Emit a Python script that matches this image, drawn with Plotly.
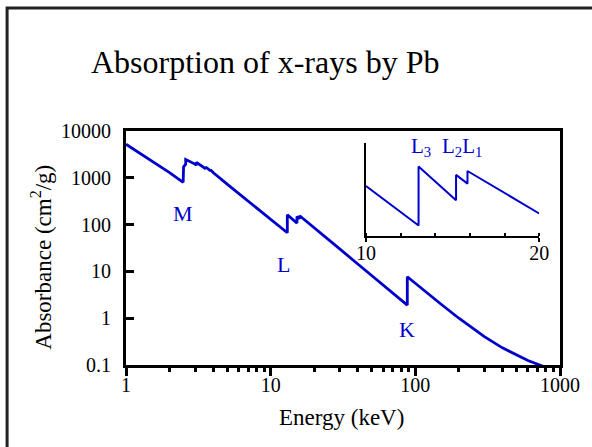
import math
import plotly.graph_objects as go

# Mass attenuation of Pb (cm^2/g) vs photon energy (keV); duplicated energies are absorption edges
energy_kev = [1.0, 1.5, 2.0, 2.484, 2.484, 2.5, 2.586, 2.586, 3.0, 3.066, 3.066, 3.5,
              3.554, 3.554, 3.851, 3.851, 4.0, 5.0, 6.0, 8.0, 10.0, 13.035, 13.035, 15.0,
              15.2, 15.2, 15.86, 15.86, 20.0, 30.0, 40.0, 50.0, 60.0, 80.0, 88.0, 88.0,
              100.0, 150.0, 200.0, 300.0, 400.0, 500.0, 600.0, 800.0, 1000.0]
absorbance = [5210, 2356, 1285, 800.6, 1397, 1726, 1944, 2458, 1965, 1857, 2146, 1620,
              1560, 1700, 1400, 1480, 1300, 730.4, 467.2, 228.7, 130.6, 67.0, 162.1, 111.6,
              107.8, 148.5, 134.4, 154.8, 86.36, 30.32, 14.36, 8.041, 5.021, 2.419, 1.91, 7.683,
              5.549, 2.014, 0.9985, 0.4031, 0.2323, 0.1614, 0.1248, 0.0887, 0.07102]

y_tick_vals = [0.1, 1, 10, 100, 1000, 10000]
y_tick_text = ["0.1", "1", "10", "100", "1000", "10000"]
x_tick_vals = [1, 10, 100, 1000]
x_tick_text = ["1", "10", "100", "1000"]
x_minor_vals = [m * d for d in (1, 10, 100) for m in range(2, 10)]

inset_x_range = [10, 20]
inset_y_range = [50, 200]
inset_tick_vals = [10, 20]
inset_tick_text = ["10", "20"]

edge_labels = ["M", "L", "K"]
edge_label_x = [2.46, 12.3, 88.0]
edge_label_y = [170, 14, 0.56]

BLUE = "#0000cd"
FONT = "Liberation Serif, Times New Roman, serif"

inset_e = [e for e in energy_kev if 10 <= e <= 20]
inset_a = [a for e, a in zip(energy_kev, absorbance) if 10 <= e <= 20]

fig = go.Figure()
fig.add_trace(go.Scatter(x=energy_kev, y=absorbance, mode="lines",
                         line=dict(color=BLUE, width=2.8), showlegend=False, hoverinfo="skip"))
fig.add_trace(go.Scatter(x=inset_e, y=inset_a, mode="lines", xaxis="x2", yaxis="y2",
                         line=dict(color=BLUE, width=2), showlegend=False, hoverinfo="skip"))

annotations = []
for t, xv, yv in zip(edge_labels, edge_label_x, edge_label_y):
    annotations.append(dict(text=t, x=math.log10(xv), y=math.log10(yv), xref="x", yref="y",
                            xanchor="center", yanchor="middle", showarrow=False,
                            font=dict(family=FONT, size=22, color=BLUE)))
annotations += [
    dict(text="L<sub>3</sub>", x=13.15, y=193, xref="x2", yref="y2", showarrow=False,
         xanchor="center", yanchor="middle", font=dict(family=FONT, size=21, color=BLUE)),
    dict(text="L<sub>2</sub>L<sub>1</sub>", x=15.55, y=193, xref="x2", yref="y2",
         showarrow=False, xanchor="center", yanchor="middle",
         font=dict(family=FONT, size=21, color=BLUE)),
    dict(text="Absorbance (cm<sup>2</sup>/g)", x=-0.194, y=0.462, xref="paper", yref="paper",
         xanchor="center", yanchor="middle", textangle=-90, showarrow=False,
         font=dict(family=FONT, size=23, color="black")),
    dict(text="Energy (keV)", x=0.497, y=-0.226, xref="paper", yref="paper",
         xanchor="center", yanchor="middle", showarrow=False,
         font=dict(family=FONT, size=23, color="black")),
]

fig.update_layout(
    width=592, height=447,
    margin=dict(l=126, r=32, t=131, b=82),
    paper_bgcolor="white", plot_bgcolor="white",
    font=dict(family=FONT, size=20, color="black"),
    title=dict(text="Absorption of x-rays by Pb", x=0.448, xanchor="center", y=0.861,
               yanchor="middle", xref="container", yref="container",
               font=dict(family=FONT, size=32, color="black")),
    xaxis=dict(type="log", range=[0, 3], showline=True, linewidth=3, linecolor="black",
               mirror=True, showgrid=False, zeroline=False,
               tickmode="array", tickvals=x_tick_vals, ticktext=x_tick_text,
               ticks="outside", ticklen=8, tickwidth=2.5, tickcolor="black",
               ticklabelstandoff=-8,
               minor=dict(tickmode="array", tickvals=x_minor_vals, ticks="outside",
                          ticklen=4, tickwidth=2.5, tickcolor="black", showgrid=False),
               tickfont=dict(family=FONT, size=20)),
    yaxis=dict(type="log", range=[-1, 4], showline=True, linewidth=3, linecolor="black",
               mirror=True, showgrid=False, zeroline=False,
               tickmode="array", tickvals=y_tick_vals, ticktext=y_tick_text,
               ticks="inside", ticklen=8, tickwidth=2.5, tickcolor="black",
               ticklabelstandoff=8, tickfont=dict(family=FONT, size=20)),
    xaxis2=dict(domain=[0.553, 0.952], anchor="y2", range=inset_x_range, showline=True,
                linewidth=2, linecolor="black", showgrid=False, zeroline=False,
                tickmode="array", tickvals=inset_tick_vals, ticktext=inset_tick_text,
                ticks="outside", ticklen=4, tickwidth=1.5, tickcolor="black",
                ticklabelstandoff=-6,
                minor=dict(dtick=2, ticks="inside", ticklen=3, tickwidth=1.5,
                           tickcolor="black", showgrid=False),
                tickfont=dict(family=FONT, size=20)),
    yaxis2=dict(domain=[0.551, 0.949], anchor="x2", range=inset_y_range, showline=True,
                linewidth=2, linecolor="black", showgrid=False, zeroline=False,
                showticklabels=False, ticks=""),
    annotations=annotations,
    shapes=[dict(type="rect", xref="paper", yref="paper", x0=-0.274, x1=1.3,
                 y0=-0.6, y1=1.526, line=dict(color="#222", width=3))],
)

fig.write_html("out.html")
